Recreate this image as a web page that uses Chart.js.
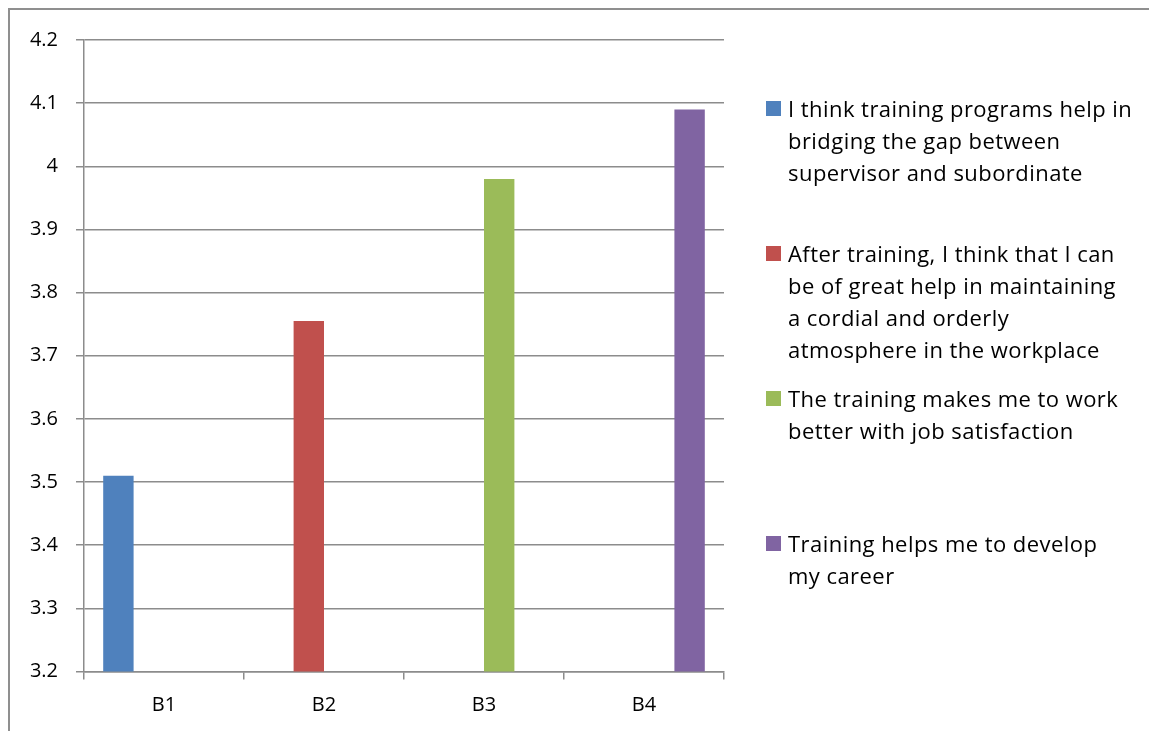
<!DOCTYPE html>
<html>
<head>
<meta charset="utf-8">
<script src="https://cdn.jsdelivr.net/npm/chart.js@4/dist/chart.umd.min.js"></script>
<style>
    html, body { margin: 0; padding: 0; background: #fff; overflow: hidden; }
    #wrap { position: relative; width: 1149px; height: 731px; }
    #frame {
        position: absolute; left: 8px; top: 8px; width: 1200px; height: 800px;
        border: 2px solid #8f8f8f; box-sizing: border-box;
    }
    #chart { position: absolute; left: 0; top: 0; }
    #legend {
        position: absolute; left: 766px; top: 0; width: 383px;
        font-family: 'Open Sans', sans-serif; font-size: 22px; color: #000;
        letter-spacing: 0.45px;
    }
    .legend-item { position: absolute; left: 0; display: flex; }
    .legend-box { width: 15px; height: 15px; flex: none; margin-top: 9px; margin-right: 7px; }
    .legend-text { line-height: 32px; width: 345px; }
</style>
</head>
<body>
<div id="wrap">
    <div id="frame"></div>
    <canvas id="chart" width="1149" height="731"></canvas>
    <div id="legend"></div>
</div>
<script>
// Chart data
const categories = ['B1', 'B2', 'B3', 'B4'];
const seriesNames = [
    'I think training programs help in bridging the gap between supervisor and subordinate',
    'After training, I think that I can be of great help in maintaining a cordial and orderly atmosphere in the workplace',
    'The training makes me to work better with job satisfaction',
    'Training helps me to develop my career'
];
const seriesValues = [3.51, 3.755, 3.98, 4.09];
const seriesColors = ['#4F81BD', '#C0504D', '#9BBB59', '#8064A2'];

const axisColor = '#8c8c8c';
const fontFamily = "'Open Sans', sans-serif";

// one dataset per statement, each only filled at its own category
const datasets = seriesNames.map((name, i) => ({
    label: name,
    data: categories.map((c, j) => (j === i ? seriesValues[i] : null)),
    backgroundColor: seriesColors[i],
    borderWidth: 0,
    categoryPercentage: 0.76,
    barPercentage: 1.0
}));

// Build the legend as html so long labels wrap
const htmlLegend = {
    id: 'htmlLegend',
    afterUpdate(chart) {
        const box = document.getElementById('legend');
        box.innerHTML = '';
        const items = chart.options.plugins.legend.labels.generateLabels(chart);
        items.forEach((item, i) => {
            const row = document.createElement('div');
            row.className = 'legend-item';
            row.style.top = (92 + i * 145) + 'px';
            const sw = document.createElement('span');
            sw.className = 'legend-box';
            sw.style.background = item.fillStyle;
            const txt = document.createElement('span');
            txt.className = 'legend-text';
            txt.textContent = item.text;
            row.appendChild(sw);
            row.appendChild(txt);
            box.appendChild(row);
        });
    }
};

const ctx = document.getElementById('chart').getContext('2d');
const chart = new Chart(ctx, {
    type: 'bar',
    data: { labels: categories, datasets: datasets },
    options: {
        responsive: false,
        animation: false,
        layout: { padding: { top: 40, right: 425, left: 0, bottom: 0 } },
        plugins: {
            legend: { display: false },
            tooltip: { enabled: false }
        },
        scales: {
            x: {
                grid: {
                    offset: true,
                    drawOnChartArea: false,
                    color: axisColor,
                    lineWidth: 1.5,
                    tickLength: 8
                },
                border: { color: axisColor, width: 1.5 },
                ticks: {
                    color: '#000',
                    padding: 14,
                    font: { family: fontFamily, size: 20 }
                },
                afterFit(scale) { scale.height = 59.5; }
            },
            y: {
                min: 3.2,
                max: 4.2,
                grid: { color: axisColor, lineWidth: 1.5, tickLength: 8 },
                border: { color: axisColor, width: 1.5 },
                ticks: {
                    stepSize: 0.1,
                    color: '#000',
                    padding: 18,
                    font: { family: fontFamily, size: 20 },
                    callback: v => String(Number(v.toFixed(1)))
                },
                afterFit(scale) { scale.width = 84; }
            }
        }
    },
    plugins: [htmlLegend]
});
</script>
</body>
</html>
